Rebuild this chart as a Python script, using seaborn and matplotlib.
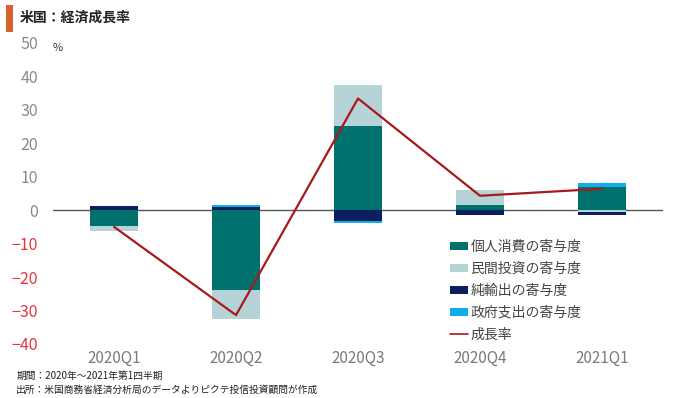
import numpy as np
import pandas as pd
import seaborn as sns
from matplotlib import pyplot as plt
from matplotlib.patches import Patch, Rectangle
from matplotlib.lines import Line2D

# values (% points)
quarters = ['2020Q1', '2020Q2', '2020Q3', '2020Q4', '2021Q1']
consumption = [-4.8, -24.0, 25.2, 1.5, 6.9]
investment = [-1.4, -8.7, 12.1, 4.5, -0.5]
net_exports = [1.3, 1.0, -3.2, -1.5, -1.0]
government = [0.0, 0.5, -0.7, 0.0, 1.2]
growth = [-5.0, -31.4, 33.4, 4.3, 6.4]

series_names = ['個人消費の寄与度', '民間投資の寄与度', '純輸出の寄与度', '政府支出の寄与度']
series_colors = ['#00716C', '#B6D4D7', '#0B1F5E', '#12AEEA']
line_color = '#A8191E'


def stacked_bottoms(columns):
    """Bottoms for a stack where positives and negatives grow separately."""
    pos = np.zeros(len(quarters))
    neg = np.zeros(len(quarters))
    out = []
    for col in columns:
        vals = np.array(col, dtype=float)
        out.append(np.where(vals >= 0, pos, neg))
        pos = pos + np.clip(vals, 0, None)
        neg = neg + np.clip(vals, None, 0)
    return out


def main():
    sns.set_theme(style='white')
    plt.rcParams['font.family'] = ['Noto Sans CJK JP', 'DejaVu Sans']

    fig = plt.figure(figsize=(6.8, 3.98), dpi=100)
    ax = fig.add_axes([0.078, 0.136, 0.897, 0.756])

    columns = [consumption, investment, net_exports, government]
    bottoms = stacked_bottoms(columns)
    for vals, bot, color in zip(columns, bottoms, series_colors):
        df = pd.DataFrame({'quarter': quarters, 'value': vals})
        sns.barplot(data=df, x='quarter', y='value', bottom=bot,
                    color=color, width=0.4, errorbar=None,
                    saturation=1, linewidth=0, ax=ax)

    sns.lineplot(x=np.arange(len(quarters)), y=growth, color=line_color,
                 linewidth=1.6, ax=ax)

    ax.axhline(0, color='#555555', linewidth=1.0, zorder=0.5)
    ax.set_ylim(-40, 50)
    ax.set_xlim(-0.5, 4.5)
    ax.set_yticks(range(-40, 51, 10))
    ax.set_xlabel('')
    ax.set_ylabel('')
    sns.despine(ax=ax, left=True, bottom=True)
    ax.tick_params(axis='y', length=0, labelsize=11.5, pad=11)
    ax.tick_params(axis='x', length=0, labelsize=11, pad=4,
                   labelcolor='#7a7a7a')
    for lab, val in zip(ax.get_yticklabels(), range(-40, 51, 10)):
        lab.set_color('#E8333C' if val < 0 else '#8a8a8a')

    ax.text(0.0, 0.982, '%', transform=ax.transAxes, fontsize=8,
            color='#333333', ha='left', va='center')

    handles = [Patch(facecolor=c, edgecolor='none') for c in series_colors]
    handles.append(Line2D([0], [0], color=line_color, linewidth=1.2))
    ax.legend(handles, series_names + ['成長率'], loc='upper left',
              bbox_to_anchor=(0.653, 0.412), bbox_transform=fig.transFigure,
              frameon=False, fontsize=10, handlelength=1.3, handleheight=0.5,
              handletextpad=0.2, labelspacing=0.58, borderaxespad=0,
              labelcolor='#444444')

    # title with orange marker
    fig.patches.append(Rectangle((0.009, 0.92), 0.010, 0.067,
                                 transform=fig.transFigure,
                                 facecolor='#D9622B', edgecolor='none'))
    fig.text(0.029, 0.955, '米国：経済成長率', fontsize=10,
             fontweight='bold', color='#222222', va='center')

    fig.text(0.024, 0.055, '期間：2020年～2021年第1四半期', fontsize=7,
             color='#222222', va='center')
    fig.text(0.024, 0.02, '出所：米国商務省経済分析局のデータよりピクテ投信投資顧問が作成',
             fontsize=7, color='#222222', va='center')

    fig.savefig('out.png', dpi=100)


if __name__ == '__main__':
    main()
